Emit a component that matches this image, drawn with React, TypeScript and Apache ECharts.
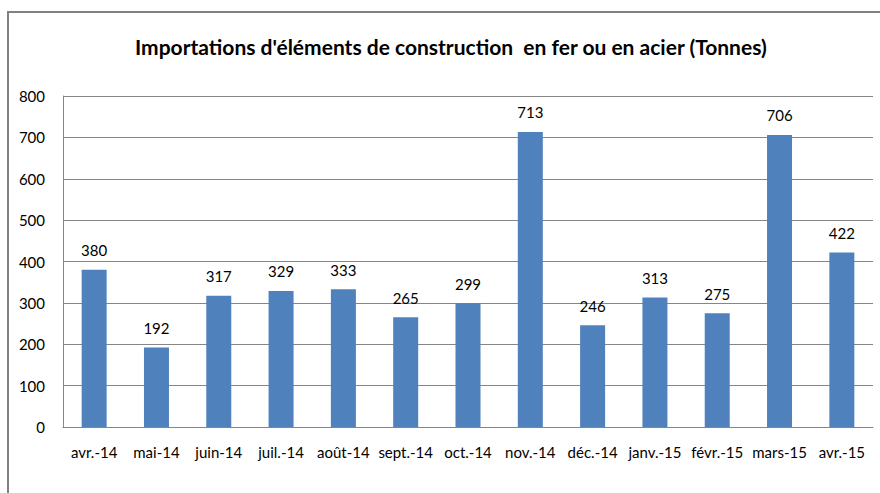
import React, { useEffect, useRef } from "react";
import * as echarts from "echarts";

const title = "Importations d'éléments de construction  en fer ou en acier (Tonnes)";
const categories = ["avr.-14", "mai-14", "juin-14", "juil.-14", "août-14", "sept.-14", "oct.-14", "nov.-14", "déc.-14", "janv.-15", "févr.-15", "mars-15", "avr.-15"];
const values = [380, 192, 317, 329, 333, 265, 299, 713, 246, 313, 275, 706, 422];
const yMin = 0;
const yMax = 800;
const yInterval = 100;

const FONT = "Lato, 'Open Sans', sans-serif";

export default function App() {
  const ref = useRef<HTMLDivElement>(null);
  useEffect(() => {
    if (!ref.current) return;
    const chart = echarts.init(ref.current, undefined, { renderer: "svg" });
    chart.setOption({
      animation: false,
      backgroundColor: "#ffffff",
      textStyle: { fontFamily: FONT },
      title: {
        text: title,
        left: 130,
        top: 31,
        textStyle: { fontFamily: FONT, fontSize: 21, fontWeight: "bold", color: "#000" },
      },
      graphic: [
        {
          type: "rect",
          shape: { x: 8, y: 12, width: 1000, height: 700 },
          style: { fill: "none", stroke: "#808080", lineWidth: 2 },
          silent: true,
        },
      ],
      grid: { left: 63, right: 7, top: 96, bottom: 66, containLabel: false },
      xAxis: {
        type: "category",
        data: categories,
        axisLine: { lineStyle: { color: "#868686", width: 1 } },
        axisTick: { show: false },
        axisLabel: { color: "#000", fontSize: 15, margin: 17, fontFamily: FONT, interval: 0 },
      },
      yAxis: {
        type: "value",
        min: yMin,
        max: yMax,
        interval: yInterval,
        axisLine: { show: true, lineStyle: { color: "#868686", width: 1 } },
        axisTick: { show: false },
        axisLabel: { color: "#000", fontSize: 15, margin: 18, fontFamily: FONT },
        splitLine: { lineStyle: { color: "#868686", width: 1 } },
      },
      series: [
        {
          type: "bar",
          data: values,
          barWidth: 25,
          itemStyle: { color: "#4F81BD" },
          label: {
            show: true,
            position: "top",
            distance: 12,
            color: "#000",
            fontSize: 15,
            fontFamily: FONT,
          },
        },
      ],
    });
    return () => chart.dispose();
  }, []);
  return <div ref={ref} style={{ position: "fixed", left: 0, top: 0, width: 880, height: 493 }} />;
}
